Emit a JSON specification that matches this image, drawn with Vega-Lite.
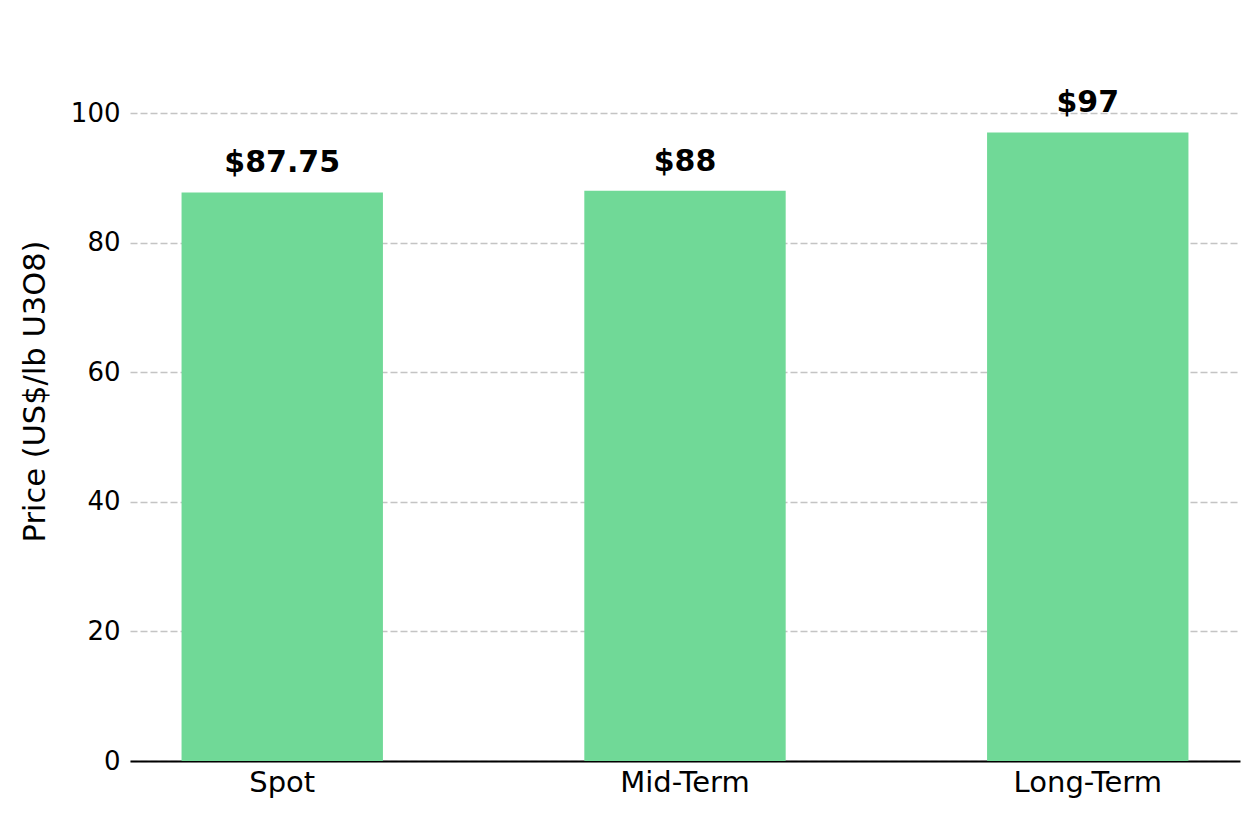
{
  "$schema": "https://vega.github.io/schema/vega-lite/v6.json",
  "width": 1110,
  "height": 740,
  "autosize": {"type": "none"},
  "padding": {"left": 130, "top": 21, "right": 20, "bottom": 58},
  "background": "white",
  "config": {
    "view": {"stroke": null},
    "font": "DejaVu Sans"
  },
  "data": {
    "values": [
      {"term": "Spot", "price": 87.75, "label": "$87.75"},
      {"term": "Mid-Term", "price": 88, "label": "$88"},
      {"term": "Long-Term", "price": 97, "label": "$97"}
    ]
  },
  "encoding": {
    "x": {
      "field": "term",
      "type": "nominal",
      "sort": null,
      "title": null,
      "scale": {"paddingInner": 0.5, "paddingOuter": 0.128},
      "axis": {
        "labelAngle": 0,
        "labelFontSize": 29,
        "labelColor": "black",
        "labelPadding": 7,
        "ticks": false,
        "domain": true,
        "domainColor": "black",
        "domainWidth": 2,
        "grid": false
      }
    },
    "y": {
      "field": "price",
      "type": "quantitative",
      "title": "Price (US$/lb U3O8)",
      "scale": {"domain": [0, 114.2], "nice": false},
      "axis": {
        "values": [0, 20, 40, 60, 80, 100],
        "labelFontSize": 26,
        "labelColor": "black",
        "labelPadding": 10,
        "ticks": false,
        "domain": false,
        "grid": true,
        "gridColor": "#c4c4c4",
        "gridWidth": 1.7,
        "gridDash": [7, 3],
        "titleFontSize": 30.5,
        "titleFontWeight": "normal",
        "titleColor": "black",
        "titlePadding": 20
      }
    }
  },
  "layer": [
    {
      "mark": {"type": "bar", "color": "#70d997"}
    },
    {
      "mark": {
        "type": "text",
        "baseline": "alphabetic",
        "dy": -20,
        "fontSize": 30,
        "fontWeight": "bold",
        "color": "black"
      },
      "encoding": {
        "text": {"field": "label", "type": "nominal"}
      }
    }
  ]
}
